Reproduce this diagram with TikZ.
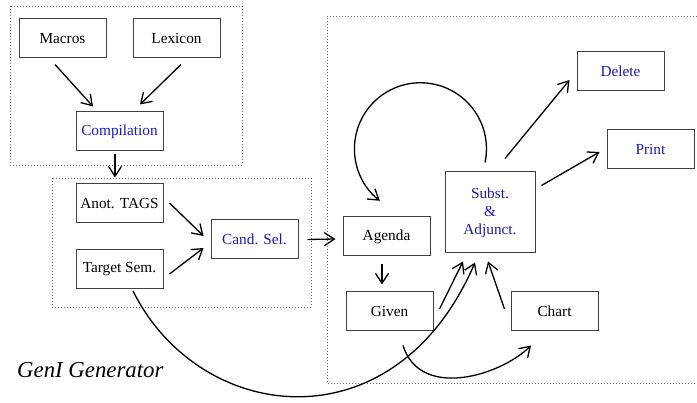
\documentclass[tikz,border=0pt]{standalone}
\usepackage{fontspec}
\setmainfont{Liberation Serif}
\usetikzlibrary{arrows.meta,calc}
\definecolor{nodeblue}{RGB}{28,28,172}
\begin{document}
\begin{tikzpicture}[x=1pt,y=-1pt,
  box/.style={draw=black!75,line width=1.0pt,minimum width=87pt,minimum height=39pt,inner sep=0pt,
    font=\fontsize{15.3}{18}\selectfont},
  bluebox/.style={box,text=nodeblue},
  frame/.style={draw=black!60,line width=0.9pt,dash pattern=on 0.9pt off 2.1pt},
  arr/.style={line width=1.3pt,-{Straight Barb[length=10pt,width=13pt,line width=1.3pt]}}
]
\useasboundingbox (0,0) rectangle (697,403);
% frames
\draw[frame] (10,6) rectangle (242,165);
\draw[frame] (52,178) rectangle (311,307);
\draw[frame] (697,16) -- (327,16) -- (327,383) -- (697,383);
% nodes
\node[box] (macros) at (62.5,38.5) {Macros};
\node[box] (lexicon) at (176.5,38.5) {Lexicon};
\node[bluebox] (comp) at (119.5,131.5) {Compilation};
\node[box] (anot) at (119.5,203.5) {Anot. TAGS};
\node[box] (target) at (119.5,269) {Target Sem.};
\node[bluebox] (cand) at (254.5,239.5) {Cand. Sel.};
\node[box] (agenda) at (386.5,236.5) {Agenda};
\node[box] (given) at (389.5,311.5) {Given};
\node[box] (chart) at (554.5,311.5) {Chart};
\node[bluebox,minimum width=90pt,minimum height=81pt,align=center,
  font=\fontsize{15.3}{18}\selectfont] (subst) at (490,212.5) {Subst.\\\&\\Adjunct.};
\node[bluebox] (delete) at (620.5,71.5) {Delete};
\node[bluebox] (print) at (650.5,149.5) {Print};
\node[anchor=base west,font=\fontsize{22.8}{27}\selectfont\itshape,inner sep=0pt] (title) at (17,378) {GenI Generator};
% connectors
\draw[arr] ($(macros.south)+(-7.5,6)$) -- ($(comp.north)+(-26.5,-5)$);
\draw[arr] ($(lexicon.south)+(4.5,6)$) -- ($(comp.north)+(20.5,-7)$);
\draw[arr] ($(comp.south)+(-4.5,3)$) -- ($(anot.north)+(-4.5,-6)$);
\draw[arr] ($(anot.east)+(6,-0.5)$) -- ($(cand.west)+(-7,-3.5)$);
\draw[arr] ($(target.east)+(6,5)$) -- ($(cand.west)+(-7,8.5)$);
\draw[arr] ($(cand.east)+(9,0)$) -- ($(agenda.west)+(-7,2.5)$);
\draw[arr] ($(agenda.south)+(-4.5,8)$) -- ($(given.north)+(-7.5,-7)$);
\draw[arr] ($(given.east)+(6,-2.5)$) -- ($(subst.south)+(-27,8)$);
\draw[arr] ($(chart.west)+(-6,-2.5)$) -- ($(subst.south)+(-2,8)$);
\draw[arr] ($(subst.north)+(15,-13)$) -- ($(delete.west)+(-7,8.5)$);
\draw[arr] ($(subst.north east)+(6,14)$) -- ($(print.west)+(-7,2.5)$);
\draw[arr] ($(subst.north)+(-5,-9)$) arc[start angle=12,end angle=-232,radius=66];
\draw[arr] ($(given.south)+(13.5,14)$) .. controls (420,400) and (500,376) .. ($(chart.south)+(-23.5,14)$);
\draw[arr] ($(target.south)+(13.5,2)$) .. controls (200,425) and (395,448) .. ($(subst.south)+(-15,9)$);
\end{tikzpicture}
\end{document}
